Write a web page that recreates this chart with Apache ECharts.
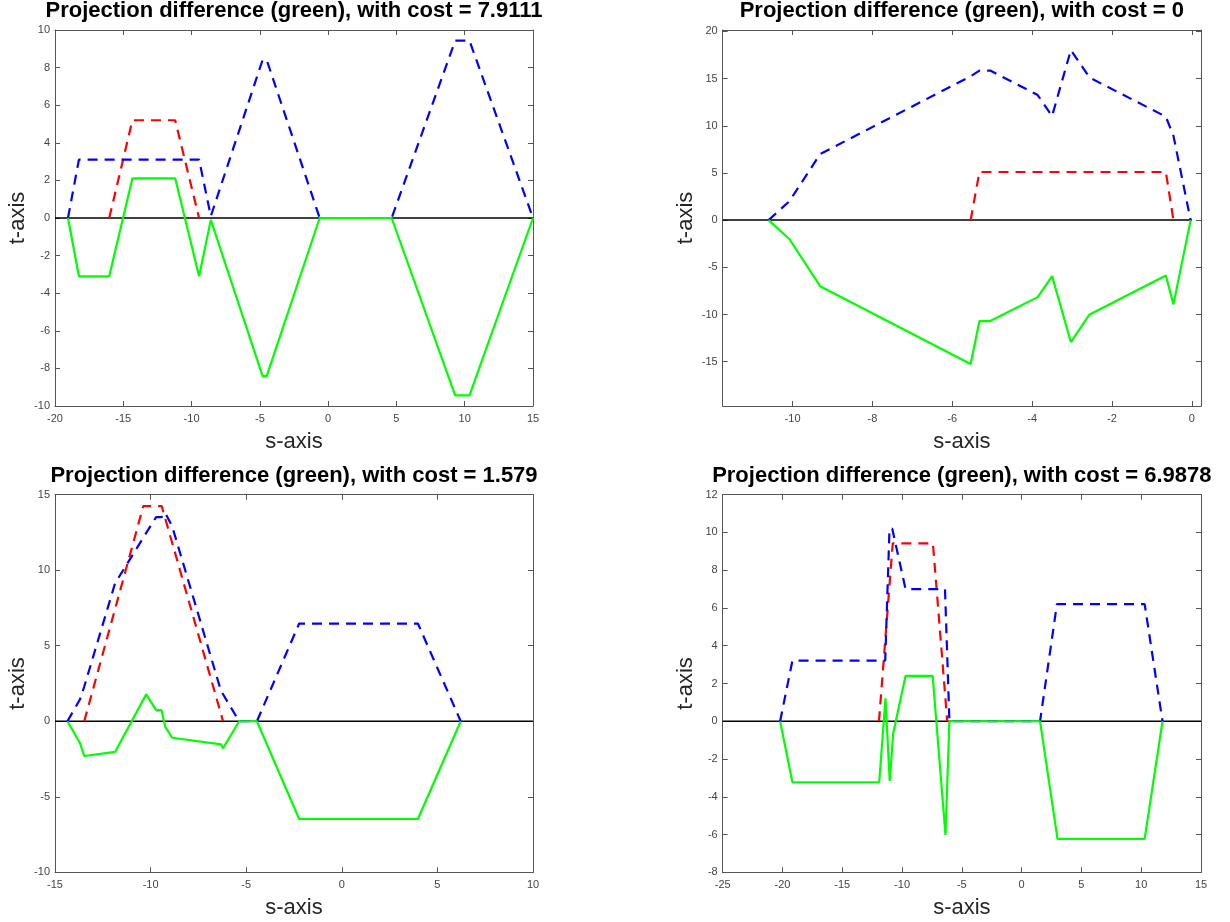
<!DOCTYPE html>
<html>
<head>
<meta charset="utf-8">
<script src="https://cdn.jsdelivr.net/npm/echarts@6/dist/echarts.min.js"></script>
<style>html,body{margin:0;padding:0;background:#fff}#c{width:1230px;height:922px}</style>
</head>
<body>
<div id="c"></div>
<script>
// ---- data (s, t) ----
const titles = [
  'Projection difference (green), with cost = 7.9111',
  'Projection difference (green), with cost = 0',
  'Projection difference (green), with cost = 1.579',
  'Projection difference (green), with cost = 6.9878'
];
const green1 = [[-19.05,0],[-18.25,-3.1],[-16.03,-3.1],[-14.33,2.11],[-11.2,2.11],[-9.45,-3.1],[-8.59,-0.1],[-4.8,-8.41],[-4.5,-8.41],[-0.62,0],[4.65,0],[9.3,-9.43],[10.35,-9.43],[15,0]];
const blue1  = [[-19.05,0],[-18.25,3.1],[-9.45,3.1],[-8.59,0.1],[-4.8,8.41],[-4.5,8.41],[-0.62,0],[4.65,0],[9.3,9.43],[10.35,9.43],[15,0]];
const red1   = [[-16.03,0],[-14.33,5.2],[-11.2,5.2],[-9.45,0]];

const green2 = [[-10.6,0],[-10.08,-2.0],[-9.31,-7.0],[-5.54,-15.25],[-5.32,-10.7],[-5.05,-10.7],[-3.86,-8.16],[-3.5,-5.93],[-3.03,-12.92],[-2.56,-10.0],[-0.65,-5.86],[-0.46,-8.93],[-0.03,0]];
const blue2  = [[-10.6,0],[-10.08,2.0],[-9.31,7.0],[-5.54,15.25],[-5.32,15.85],[-5.05,15.85],[-3.86,13.26],[-3.5,11.03],[-3.03,18.02],[-2.56,15.1],[-0.65,10.96],[-0.46,8.93],[-0.03,0]];
const red2   = [[-5.54,0],[-5.32,5.1],[-0.65,5.1],[-0.46,0]];

const green3 = [[-14.35,0],[-13.69,-1.46],[-13.47,-2.3],[-11.86,-2.03],[-10.23,1.78],[-9.71,0.74],[-9.43,0.74],[-9.24,-0.36],[-8.87,-1.09],[-6.31,-1.53],[-6.21,-1.79],[-5.37,0],[-4.44,0],[-2.23,-6.47],[3.98,-6.47],[6.22,0]];
const blue3  = [[-14.35,0],[-13.69,1.46],[-13.47,2.3],[-11.86,9.13],[-10.23,12.47],[-9.71,13.51],[-9.43,13.51],[-9.24,13.81],[-8.87,12.9],[-6.31,1.97],[-6.21,1.79],[-5.37,0],[-4.44,0],[-2.23,6.47],[3.98,6.47],[6.22,0]];
const red3   = [[-13.47,0],[-10.38,14.25],[-9.42,14.25],[-6.21,0]];

const green4 = [[-20.2,0],[-19.17,-3.23],[-11.91,-3.23],[-11.39,1.21],[-11.03,-3.16],[-10.74,-0.64],[-9.71,2.4],[-7.44,2.4],[-6.37,-6.02],[-6.04,0],[1.54,0],[3.0,-6.23],[10.29,-6.23],[11.78,0]];
const blue4  = [[-20.2,0],[-19.17,3.21],[-11.41,3.21],[-11.05,10.2],[-10.82,10.2],[-9.71,7.0],[-6.41,7.0],[-6.04,0],[1.54,0],[2.95,6.2],[10.29,6.2],[11.78,0]];
const red4   = [[-11.93,0],[-10.78,9.42],[-7.42,9.42],[-6.22,0]];

// axis ranges and tick values
const xTicks1 = [-20,-15,-10,-5,0,5,10,15];
const yTicks1 = [-10,-8,-6,-4,-2,0,2,4,6,8,10];
const xTicks2 = [-10,-8,-6,-4,-2,0];
const yTicks2 = [-15,-10,-5,0,5,10,15,20];
const xTicks3 = [-15,-10,-5,0,5,10];
const yTicks3 = [-10,-5,0,5,10,15];
const xTicks4 = [-25,-20,-15,-10,-5,0,5,10,15];
const yTicks4 = [-8,-6,-4,-2,0,2,4,6,8,10,12];
const xRange = [[-20,15],[-11.75,0.23],[-15,10],[-25,15]];
const yRange = [[-10,10],[-19.7,20.15],[-10,15],[-8,12]];
const zeroLineRange = [[-20,15],[-11.75,0],[-15,10],[-25,15]];

// ---- layout ----
const panels = [
  {left:55,    top:30,    width:478, height:376,  green:green1, blue:blue1, red:red1, xt:xTicks1, yt:yTicks1},
  {left:722.7, top:30,    width:478.3, height:376, green:green2, blue:blue2, red:red2, xt:xTicks2, yt:yTicks2},
  {left:55,    top:494.7, width:478, height:377.6, green:green3, blue:blue3, red:red3, xt:xTicks3, yt:yTicks3},
  {left:722.7, top:494.7, width:478.3, height:377.6, green:green4, blue:blue4, red:red4, xt:xTicks4, yt:yTicks4}
];

const FONT = '"Liberation Sans", Arial, Helvetica, sans-serif';
const boxColor = '#555555';
const labelColor = '#444444';
const dash = [10, 7];

const grid = [], xAxis = [], yAxis = [], series = [], graphic = [];
panels.forEach((p, i) => {
  grid.push({left:p.left, top:p.top, width:p.width, height:p.height, containLabel:false});
  const common = {
    gridIndex:i, type:'value', splitLine:{show:false},
    axisLine:{show:true, onZero:false, lineStyle:{color:boxColor, width:1}},
    axisTick:{show:true, inside:true, length:5, lineStyle:{color:boxColor, width:1}}
  };
  const mkX = (pos, lbl) => Object.assign({}, common, {
    position:pos, min:xRange[i][0], max:xRange[i][1],
    axisTick:Object.assign({}, common.axisTick, {customValues:p.xt}),
    axisLabel:{show:lbl, customValues:p.xt, fontSize:11, color:labelColor, fontFamily:FONT, margin:7, showMinLabel:true, showMaxLabel:true},
    name: lbl ? 's-axis' : '', nameLocation:'middle', nameGap:25,
    nameTextStyle:{fontSize:22, color:'#262626', fontFamily:FONT}
  });
  const mkY = (pos, lbl) => Object.assign({}, common, {
    position:pos, min:yRange[i][0], max:yRange[i][1],
    axisTick:Object.assign({}, common.axisTick, {customValues:p.yt}),
    axisLabel:{show:lbl, customValues:p.yt, fontSize:11, color:labelColor, fontFamily:FONT, margin:5, showMinLabel:true, showMaxLabel:true},
    name: lbl ? 't-axis' : '', nameLocation:'middle', nameGap:26,
    nameTextStyle:{fontSize:22, color:'#262626', fontFamily:FONT}
  });
  xAxis.push(mkX('bottom', true), mkX('top', false));
  yAxis.push(mkY('left', true), mkY('right', false));
  const base = {type:'line', xAxisIndex:2*i, yAxisIndex:2*i, symbol:'none', showSymbol:false, silent:true, animation:false};
  series.push(Object.assign({}, base, {data:[[zeroLineRange[i][0],0],[zeroLineRange[i][1],0]], lineStyle:{color:'#000000', width:1.5}, z:2}));
  series.push(Object.assign({}, base, {data:p.red, lineStyle:{color:'#ff0000', width:2.2, type:dash}, z:3}));
  series.push(Object.assign({}, base, {data:p.blue, lineStyle:{color:'#0000ff', width:2.2, type:dash}, z:4}));
  series.push(Object.assign({}, base, {data:p.green, lineStyle:{color:'#00ff00', width:2.2}, z:5}));
  graphic.push({type:'text', x:p.left + p.width/2, y:p.top - 19,
    style:{text:titles[i], fontSize:22, fontWeight:'bold', fontFamily:FONT, fill:'#000',
      align:'center', verticalAlign:'middle', textAlign:'center', textVerticalAlign:'middle'}});
});

const chart = echarts.init(document.getElementById('c'), null, {renderer:'canvas'});
chart.setOption({animation:false, backgroundColor:'#ffffff', grid, xAxis, yAxis, series, graphic});
</script>
</body>
</html>
